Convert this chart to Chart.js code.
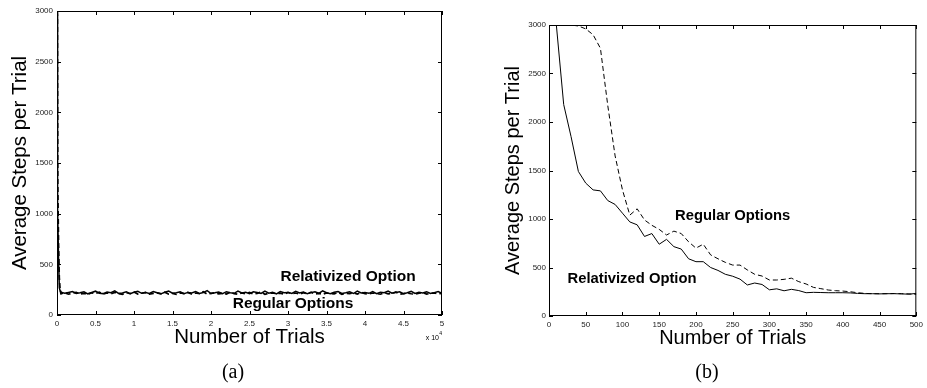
<!DOCTYPE html>
<html>
<head>
<meta charset="utf-8">
<script src="https://cdn.jsdelivr.net/npm/chart.js@4.4.1/dist/chart.umd.min.js"></script>
<style>
  html, body { margin: 0; padding: 0; background: #fff; }
  #wrap { position: relative; width: 927px; height: 388px; }
  #chartA { position: absolute; left: 0; top: 0; }
  #chartB { position: absolute; left: 460px; top: 0; }
</style>
</head>
<body>
<div id="wrap">
  <canvas id="chartA" width="460" height="388"></canvas>
  <canvas id="chartB" width="467" height="388"></canvas>
</div>
<script>
// panel (a): 0..50000 trials
const trialsA = [0, 50, 100, 200, 300, 400,
  500, 1000, 1500, 2000, 2500, 3000, 3500, 4000, 4500, 5000,
  5500, 6000, 6500, 7000, 7500, 8000, 8500, 9000, 9500, 10000,
  10500, 11000, 11500, 12000, 12500, 13000, 13500, 14000, 14500, 15000,
  15500, 16000, 16500, 17000, 17500, 18000, 18500, 19000, 19500, 20000,
  20500, 21000, 21500, 22000, 22500, 23000, 23500, 24000, 24500, 25000,
  25500, 26000, 26500, 27000, 27500, 28000, 28500, 29000, 29500, 30000,
  30500, 31000, 31500, 32000, 32500, 33000, 33500, 34000, 34500, 35000,
  35500, 36000, 36500, 37000, 37500, 38000, 38500, 39000, 39500, 40000,
  40500, 41000, 41500, 42000, 42500, 43000, 43500, 44000, 44500, 45000,
  45500, 46000, 46500, 47000, 47500, 48000, 48500, 49000, 49500, 50000];

const relativizedA = [3000, 1370, 1060, 560, 270, 240,
  226, 214, 223, 232, 212, 219, 229, 209, 222, 235,
  215, 211, 227, 220, 238, 213, 218, 230, 210, 224,
  233, 214, 221, 212, 231, 219, 209, 225, 236, 215,
  220, 229, 211, 223, 217, 232, 213, 221, 240, 212,
  219, 227, 210, 230, 220, 214, 235, 217, 224, 211,
  229, 221, 213, 236, 216, 225, 209, 231, 219, 223,
  212, 234, 217, 227, 211, 221, 230, 214, 238, 220,
  210, 224, 232, 213, 219, 229, 212, 235, 217, 223,
  214, 231, 211, 225, 220, 237, 216, 221, 229, 210,
  219, 234, 213, 224, 217, 230, 212, 221, 232, 214];

const regularA = [3000, 2960, 1300, 700, 370, 257,
  210, 220, 205, 216, 224, 207, 214, 203, 219, 211,
  226, 206, 217, 209, 223, 212, 204, 220, 210, 228,
  207, 215, 222, 205, 213, 218, 209, 225, 206, 214,
  204, 219, 211, 223, 207, 217, 210, 229, 205, 213,
  220, 209, 215, 206, 224, 211, 204, 218, 210, 222,
  207, 214, 227, 205, 213, 219, 209, 216, 203, 223,
  211, 217, 206, 220, 210, 225, 207, 214, 205, 218,
  212, 209, 222, 204, 215, 211, 219, 206, 224, 210,
  207, 217, 212, 205, 220, 209, 214, 227, 206, 211,
  218, 210, 204, 216, 222, 207, 213, 219, 209, 214];

// panel (b): first 500 trials
const trialsB = [0, 10, 20, 30, 40, 50, 60, 70, 80, 90,
  100, 110, 120, 130, 140, 150, 160, 170, 180, 190,
  200, 210, 220, 230, 240, 250, 260, 270, 280, 290,
  300, 310, 320, 330, 340, 350, 360, 370, 380, 390,
  400, 410, 420, 430, 440, 450, 460, 470, 480, 490, 500];

const relativizedB = [3000, 3000, 2180, 1850, 1490, 1370, 1300, 1290, 1190, 1150,
  1060, 970, 940, 820, 850, 740, 790, 715, 690, 590,
  560, 560, 500, 470, 430, 410, 380, 320, 340, 325,
  270, 280, 260, 275, 262, 240, 244, 242, 240, 240,
  240, 238, 233, 230, 230, 228, 230, 230, 228, 225, 233];

const regularB = [3000, 3000, 3000, 3000, 2990, 2960, 2900, 2760, 2170, 1650,
  1300, 1040, 1105, 990, 935, 893, 835, 875, 850, 765,
  700, 740, 630, 590, 553, 525, 525, 475, 430, 412,
  371, 371, 378, 390, 354, 330, 295, 282, 268, 261,
  257, 250, 240, 233, 230, 230, 230, 232, 230, 228, 222];

const yTicks = [0, 500, 1000, 1500, 2000, 2500, 3000];

const sans = "'Liberation Sans', Arial, Helvetica, sans-serif";

// matlab style box + inward ticks + text labels
const frame = {
  id: "frame",
  afterDraw(chart, args, opts) {
    const { ctx, chartArea: a, scales } = chart;
    ctx.save();
    ctx.strokeStyle = "#000";
    ctx.lineWidth = 1;
    ctx.strokeRect(a.left + 0.5, a.top + 0.5, a.right - a.left - 1, a.bottom - a.top - 1);
    const len = 4;
    ctx.beginPath();
    scales.x.ticks.forEach((t) => {
      const px = Math.round(scales.x.getPixelForValue(t.value)) + 0.5;
      ctx.moveTo(px, a.bottom); ctx.lineTo(px, a.bottom - len);
      ctx.moveTo(px, a.top); ctx.lineTo(px, a.top + len);
    });
    scales.y.ticks.forEach((t) => {
      const py = Math.round(scales.y.getPixelForValue(t.value)) + 0.5;
      ctx.moveTo(a.left, py); ctx.lineTo(a.left + len, py);
      ctx.moveTo(a.right, py); ctx.lineTo(a.right - len, py);
    });
    ctx.stroke();

    ctx.fillStyle = "#000";
    ctx.textAlign = "center";
    ctx.textBaseline = "middle";
    ctx.font = "bold " + opts.noteSize + "px " + sans;
    opts.notes.forEach((n) => {
      ctx.fillText(n.text, scales.x.getPixelForValue(n.x), scales.y.getPixelForValue(n.y));
    });

    ctx.font = "20px 'Liberation Serif', 'DejaVu Serif', serif";
    ctx.fillText(opts.caption, opts.captionX, 373);

    if (opts.exponent) {
      ctx.textAlign = "right";
      ctx.font = "7px " + sans;
      ctx.fillText("x 10", a.right - 3, 338);
      ctx.font = "5px " + sans;
      ctx.fillText("4", a.right, 334);
    }
    ctx.restore();
  },
};

function buildOptions(p) {
  return {
    responsive: false,
    animation: false,
    layout: { padding: { top: p.top, right: p.right, left: 0, bottom: 0 } },
    plugins: {
      legend: { display: false },
      tooltip: { enabled: false },
      frame: p.frame,
    },
    scales: {
      x: {
        type: "linear",
        min: 0,
        max: p.xMax,
        afterFit: (s) => { s.height = p.xHeight; },
        grid: { display: false, drawTicks: false },
        border: { display: false },
        ticks: {
          stepSize: p.xStep,
          autoSkip: false,
          maxRotation: 0,
          padding: 4,
          color: "#222",
          font: { size: 8, family: sans },
          callback: p.xLabel,
        },
        title: {
          display: true,
          text: "Number of Trials",
          color: "#000",
          font: { size: p.titleSize, family: sans },
          padding: { top: 0, bottom: 38 },
        },
      },
      y: {
        min: 0,
        max: 3000,
        afterFit: (s) => { s.width = p.yWidth; },
        afterBuildTicks: (s) => { s.ticks = yTicks.map((v) => ({ value: v })); },
        grid: { display: false, drawTicks: false },
        border: { display: false },
        ticks: {
          padding: p.yPad,
          color: "#222",
          font: { size: 8, family: sans },
          callback: (v) => String(v),
        },
        title: {
          display: true,
          text: "Average Steps per Trial",
          color: "#000",
          font: { size: p.titleSize, family: sans },
          padding: { top: p.yTitleOff, bottom: 0 },
        },
      },
    },
  };
}

function series(xs, ys, dashed, width) {
  return {
    data: xs.map((x, i) => ({ x: x, y: ys[i] })),
    borderColor: "#000",
    borderWidth: width,
    borderDash: dashed ? [5, 3] : [],
    pointRadius: 0,
    tension: 0,
    fill: false,
  };
}

new Chart(document.getElementById("chartA"), {
  type: "line",
  data: {
    datasets: [
      series(trialsA, regularA, true, 1.7),
      series(trialsA, relativizedA, false, 1.5),
    ],
  },
  options: buildOptions({
    top: 11, right: 18, xHeight: 73, yWidth: 57, yPad: 4, yTitleOff: 8,
    titleSize: 20.5, xMax: 50000, xStep: 5000,
    xLabel: (v) => v / 10000,
    frame: {
      noteSize: 15.5,
      notes: [
        { text: "Relativized Option", x: 37800, y: 375 },
        { text: "Regular Options", x: 30650, y: 108 },
      ],
      caption: "(a)", captionX: 233, exponent: true,
    },
  }),
  plugins: [frame],
});

new Chart(document.getElementById("chartB"), {
  type: "line",
  data: {
    datasets: [
      series(trialsB, regularB, true, 1),
      series(trialsB, relativizedB, false, 1),
    ],
  },
  options: buildOptions({
    top: 25, right: 8, xHeight: 72, yWidth: 89, yPad: 3, yTitleOff: 41,
    titleSize: 20, xMax: 500, xStep: 50,
    xLabel: (v) => v,
    frame: {
      noteSize: 14.8,
      notes: [
        { text: "Regular Options", x: 250, y: 1030 },
        { text: "Relativized Option", x: 113, y: 381 },
      ],
      caption: "(b)", captionX: 247, exponent: false,
    },
  }),
  plugins: [frame],
});
</script>
</body>
</html>
